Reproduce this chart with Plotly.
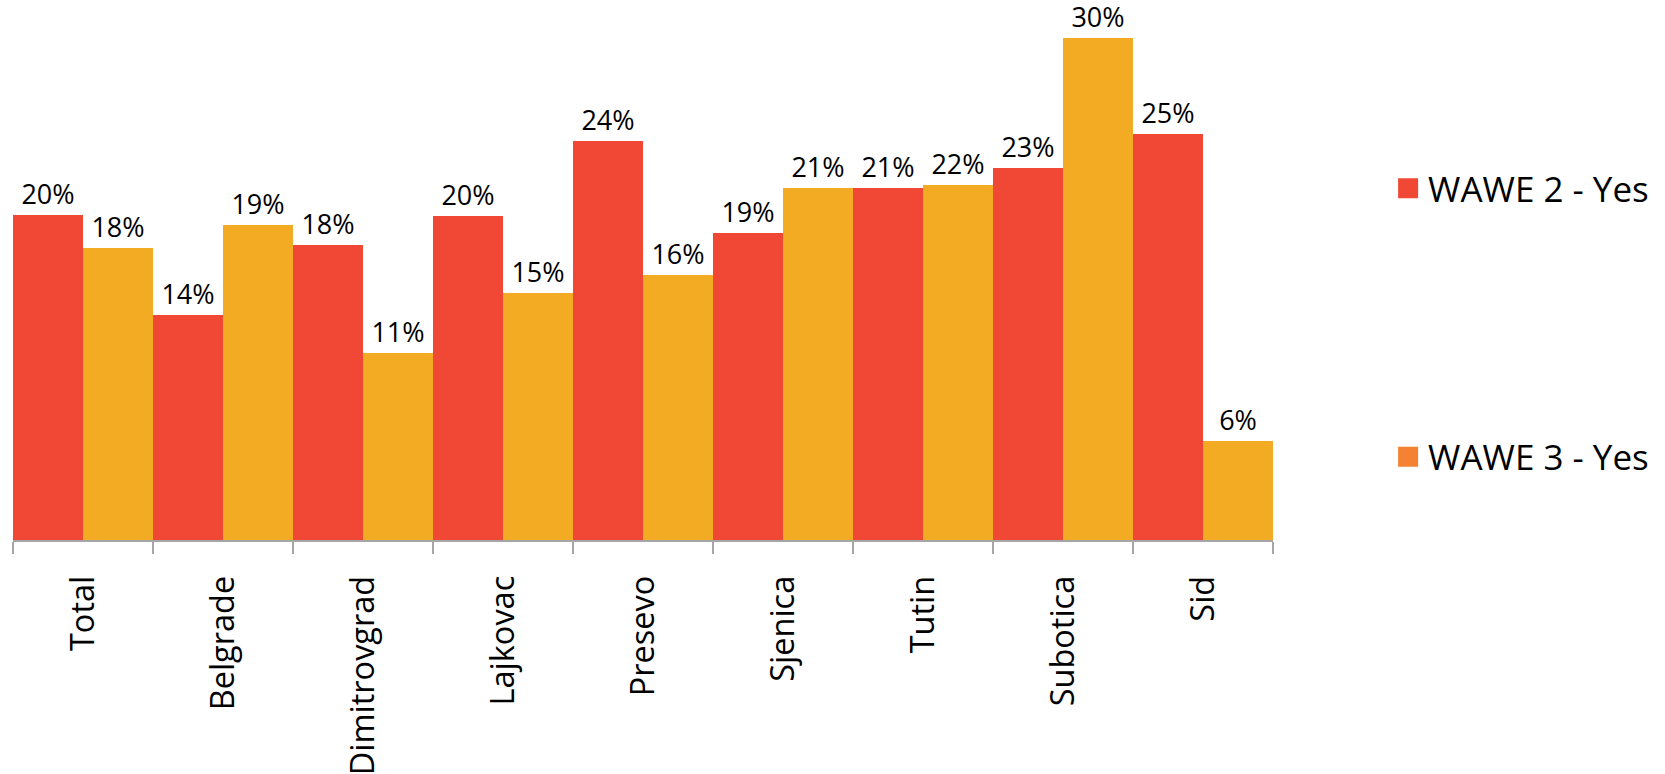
import plotly.graph_objects as go

categories = ["Total", "Belgrade", "Dimitrovgrad", "Lajkovac", "Presevo",
              "Sjenica", "Tutin", "Subotica", "Sid"]
wave2_values = [19.5, 13.5, 17.7, 19.4, 23.9, 18.4, 21.1, 22.3, 24.3]
wave3_values = [17.5, 18.9, 11.2, 14.8, 15.9, 21.1, 21.3, 30.1, 5.95]
wave2_labels = ["20%", "14%", "18%", "20%", "24%", "19%", "21%", "23%", "25%"]
wave3_labels = ["18%", "19%", "11%", "15%", "16%", "21%", "22%", "30%", "6%"]
series_names = ["WAWE 2 - Yes", "WAWE 3 - Yes"]

RED = "#F04834"
YELLOW = "#F2AB22"
ORANGE_LEGEND = "#F58232"
FONT = "Open Sans"

fig = go.Figure()
for vals, labels, color in [(wave2_values, wave2_labels, RED),
                            (wave3_values, wave3_labels, YELLOW)]:
    fig.add_trace(go.Bar(
        x=categories, y=vals, text=labels, textposition="outside",
        textfont=dict(family=FONT, size=27, color="#000000"),
        marker=dict(color=color, line=dict(width=0)),
        cliponaxis=False, constraintext="none", showlegend=False,
        hoverinfo="skip",
    ))

for i, (name, color) in enumerate(zip(series_names, [RED, ORANGE_LEGEND])):
    fig.add_trace(go.Scatter(
        x=[None], y=[None], mode="markers", name=name,
        legendgroup=f"g{i}",
        marker=dict(symbol="square", size=16, color=color,
                    line=dict(width=4, color=color)),
    ))

fig.update_layout(
    width=1665, height=774,
    margin=dict(l=13, r=392, t=6, b=234, autoexpand=False),
    paper_bgcolor="white", plot_bgcolor="white",
    barmode="group", bargap=0, bargroupgap=0,
    font=dict(family=FONT, color="#000000"),
    legend=dict(
        xref="container", yref="container", x=0.8337, y=0.7946,
        xanchor="left", yanchor="top",
        font=dict(family=FONT, size=35, color="#000000"),
        tracegroupgap=220, bgcolor="rgba(0,0,0,0)",
    ),
    showlegend=True,
)
fig.update_xaxes(
    showline=True, linecolor="#A6A6A6", linewidth=1.5,
    ticks="outside", tickson="boundaries", ticklen=12, tickcolor="#A6A6A6",
    tickwidth=1.5, tickangle=-90, ticklabelstandoff=21,
    tickfont=dict(family=FONT, size=32.5, color="#000000"),
    showgrid=False, zeroline=False,
)
fig.update_yaxes(
    range=[0, 32], visible=False, showgrid=False, zeroline=False,
)

fig.write_html("out.html", config={"displayModeBar": False},
               post_script="document.body.style.margin='0';")
